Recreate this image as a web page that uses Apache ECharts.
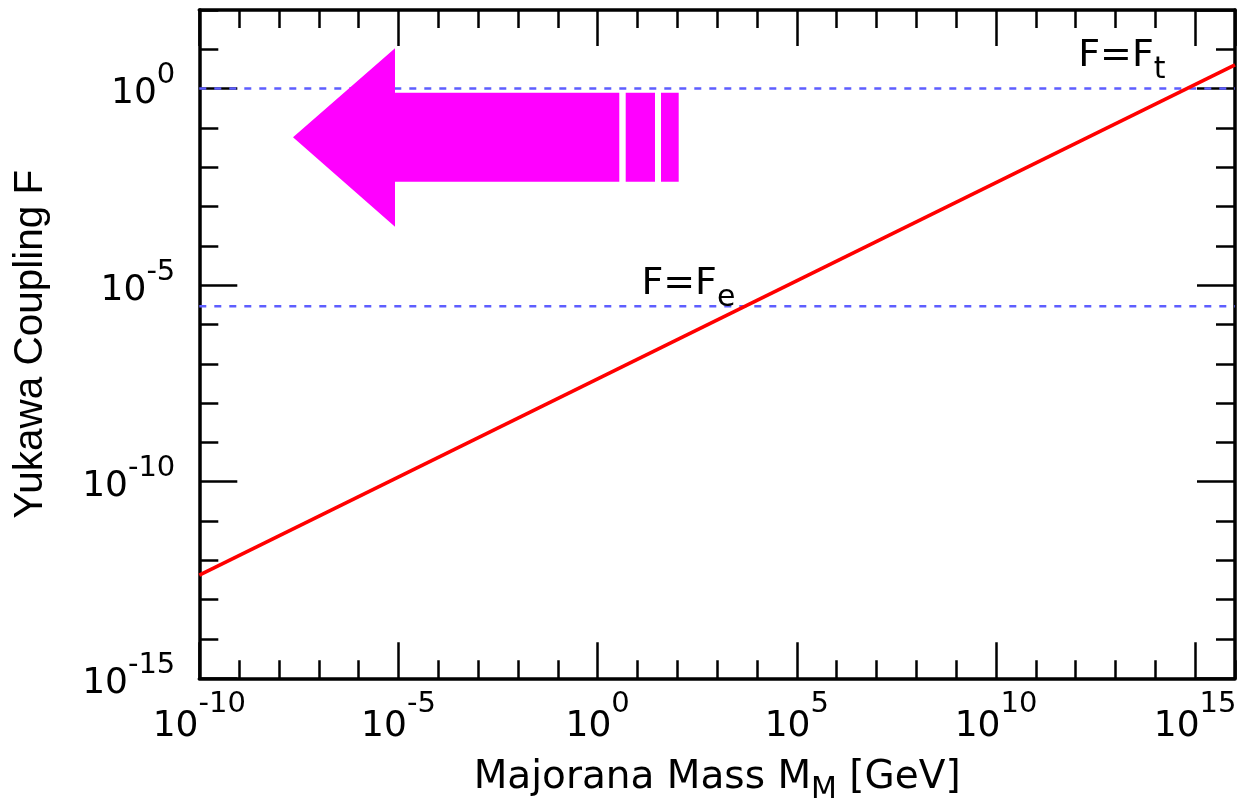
<!DOCTYPE html>
<html>
<head>
<meta charset="utf-8">
<script src="https://cdn.jsdelivr.net/npm/echarts@6/dist/echarts.min.js"></script>
<style>
html,body{margin:0;padding:0;background:#fff;}
#chart{width:1238px;height:800px;}
</style>
</head>
<body>
<div id="chart"></div>
<script>
// ---- data ----
var massRange = [1e-10, 1e16];          // x axis extent [GeV]
var couplingRange = [1e-15, 1e2];       // y axis extent
var massGeV = [1e-10, 1e16];            // red line, Majorana mass
var yukawaF = [4.2e-13, 4.0];           // red line, Yukawa coupling F
var refNames = ['F=F_t', 'F=F_e'];
var refValues = [1.0, 2.9e-6];          // top and electron Yukawa couplings
var labelMass = [1.45e13, 190];         // annotation anchors (x)
var labelOffsetY = [-13, -3];

var chart = echarts.init(document.getElementById('chart'));

var HFONT = 'DejaVu Sans';
function expOf(v){ return Math.round(Math.log10(v)); }
function xLabel(v){ var e = expOf(v); if (e % 5 !== 0) return ''; return '{b|10}{s|' + e + '}'; }
function yLabel(v){ var e = expOf(v); if (e % 5 !== 0) return ''; return '{b|10}{s|' + e + '}'; }

var xRich = {
  b: {fontFamily: HFONT, fontSize: 36, lineHeight: 36, color: '#000'},
  s: {fontFamily: HFONT, fontSize: 29, lineHeight: 29, color: '#000', padding: [0, 0, 44, 0]}
};
var yRich = {
  b: {fontFamily: HFONT, fontSize: 36, lineHeight: 36, color: '#000', padding: [10, 0, 0, 0]},
  s: {fontFamily: HFONT, fontSize: 29, lineHeight: 29, color: '#000', padding: [0, 0, 26, 0]}
};

function xAx(pos, interval, len, main){
  return {
    type: 'log', logBase: 10, position: pos,
    min: massRange[0], max: massRange[1], interval: interval,
    axisLine: {show: main, onZero: false, lineStyle: {color: '#000', width: 3.5}},
    axisTick: {show: true, inside: true, length: len, lineStyle: {color: '#000', width: 2.5}},
    minorTick: {show: false},
    splitLine: {show: false},
    axisLabel: (pos === 'bottom' && main) ? {
      show: true, formatter: xLabel, rich: xRich, margin: 30, color: '#000',
      showMinLabel: true, showMaxLabel: false
    } : {show: false}
  };
}
function yAx(pos, interval, len, main){
  return {
    type: 'log', logBase: 10, position: pos,
    min: couplingRange[0], max: couplingRange[1], interval: interval,
    axisLine: {show: main, onZero: false, lineStyle: {color: '#000', width: 3.5}},
    axisTick: {show: true, inside: true, length: len, lineStyle: {color: '#000', width: 2.5}},
    minorTick: {show: false},
    splitLine: {show: false},
    axisLabel: (pos === 'left' && main) ? {
      show: true, formatter: yLabel, rich: yRich, margin: 24, align: 'right', color: '#000',
      showMinLabel: true, showMaxLabel: false
    } : {show: false}
  };
}

var xAxes = [xAx('bottom', 5, 36, true), xAx('bottom', 1, 18, false), xAx('top', 5, 36, true), xAx('top', 1, 18, false)];
xAxes[0].name = '{a|Majorana Mass M}{m|M}{a| [GeV]}';
xAxes[0].nameLocation = 'middle';
xAxes[0].nameGap = 80;
xAxes[0].nameMoveOverlap = false;
xAxes[0].nameTextStyle = {
  color: '#000',
  rich: {
    a: {fontFamily: HFONT, fontSize: 39, lineHeight: 39, color: '#000'},
    m: {fontFamily: HFONT, fontSize: 30, lineHeight: 30, color: '#000', padding: [24, 0, 0, 0]}
  }
};
var yAxes = [yAx('left', 5, 38, true), yAx('left', 1, 19, false), yAx('right', 5, 38, true), yAx('right', 1, 19, false)];
yAxes[0].name = 'Yukawa Coupling F';
yAxes[0].nameLocation = 'middle';
yAxes[0].nameGap = 148;
yAxes[0].nameTextStyle = {fontFamily: 'Liberation Sans', fontSize: 40.5, color: '#000'};

var series = [];
refValues.forEach(function(v, i){
  series.push({
    name: refNames[i], type: 'line', xAxisIndex: 0, yAxisIndex: 0,
    data: [[massRange[0], v], [massRange[1], v]],
    symbol: 'none', silent: true, z: 2,
    lineStyle: {color: '#5e5eff', width: 2.5, type: [7, 8]}
  });
});
series.push({
  name: 'F', type: 'line', xAxisIndex: 0, yAxisIndex: 0,
  data: massGeV.map(function(m, i){ return [m, yukawaF[i]]; }),
  symbol: 'none', z: 3,
  lineStyle: {color: '#ff0000', width: 3.6}
});
series.push({
  name: 'labels', type: 'scatter', xAxisIndex: 0, yAxisIndex: 0,
  symbolSize: 0, silent: true, z: 4,
  itemStyle: {opacity: 1},
  data: refValues.map(function(v, i){
    var parts = refNames[i].split('_');
    return {
      value: [labelMass[i], v],
      label: {
        show: true, position: 'top', distance: 0, offset: [0, labelOffsetY[i]],
        color: '#000', opacity: 1,
        formatter: '{m|' + parts[0] + '}{s|' + parts[1] + '}',
        rich: {
          m: {fontFamily: HFONT, fontSize: 38, lineHeight: 38, color: '#000'},
          s: {fontFamily: HFONT, fontSize: 30, lineHeight: 30, color: '#000', padding: [28, 0, 0, 0]}
        }
      }
    };
  })
});

chart.setOption({
  animation: false,
  backgroundColor: '#fff',
  grid: {left: 199.3, top: 10, right: 3, bottom: 121.7, containLabel: false, outerBoundsMode: 'none'},
  xAxis: xAxes,
  yAxis: yAxes,
  series: series,
  graphic: [
    {type: 'polygon', z: 100, silent: true,
     shape: {points: [[293, 137.3], [395, 48.3], [395, 92.7], [619.3, 92.7], [619.3, 181.7], [395, 181.7], [395, 226.7]]},
     style: {fill: '#ff00ff'}},
    {type: 'rect', z: 100, silent: true, shape: {x: 625.7, y: 92.7, width: 29.3, height: 89}, style: {fill: '#ff00ff'}},
    {type: 'rect', z: 100, silent: true, shape: {x: 661, y: 92.7, width: 17.7, height: 89}, style: {fill: '#ff00ff'}}
  ]
});
</script>
</body>
</html>
